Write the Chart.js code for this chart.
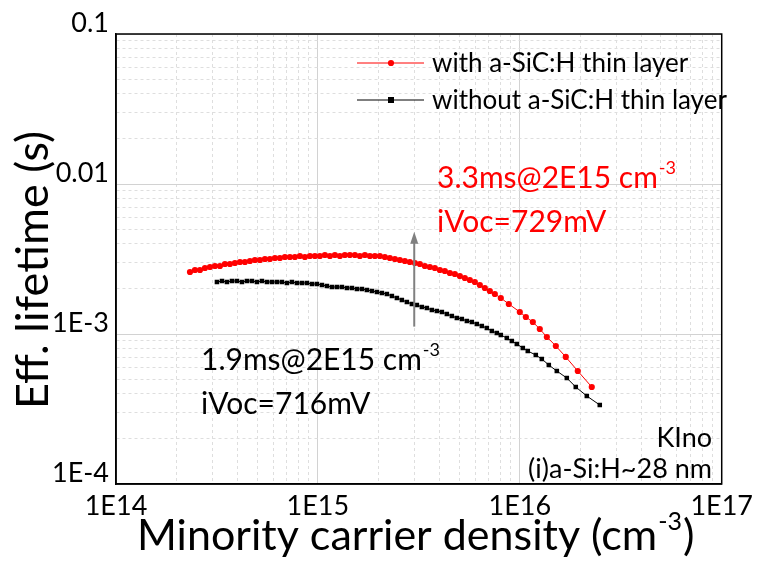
<!DOCTYPE html>
<html>
<head>
<meta charset="utf-8">
<script src="https://cdn.jsdelivr.net/npm/chart.js@4.4.0/dist/chart.umd.min.js"></script>
<style>
html, body { margin: 0; padding: 0; background: #fff; }
</style>
</head>
<body>
<canvas id="lifetimeChart" width="759" height="562"></canvas>
<script>
// effective lifetime (s) vs minority carrier density (cm-3)
var redX = [2.325e14, 2.461e14, 2.605e14, 2.758e14, 2.920e14, 3.091e14, 3.272e14, 3.464e14, 3.667e14, 3.882e14,
    4.111e14, 4.351e14, 4.607e14, 4.876e14, 5.163e14, 5.466e14, 5.786e14, 6.125e14, 6.484e14, 6.865e14,
    7.267e14, 7.693e14, 8.144e14, 8.622e14, 9.130e14, 9.663e14, 1.023e15, 1.083e15, 1.147e15, 1.214e15,
    1.285e15, 1.360e15, 1.440e15, 1.525e15, 1.614e15, 1.709e15, 1.809e15, 1.915e15, 2.027e15, 2.146e15,
    2.272e15, 2.406e15, 2.546e15, 2.696e15, 2.853e15, 3.022e15, 3.199e15, 3.386e15, 3.585e15, 3.795e15,
    4.018e15, 4.253e15, 4.503e15, 4.767e15, 5.047e15, 5.343e15, 5.656e15, 5.988e15, 6.339e15, 6.711e15,
    7.104e15, 7.521e15, 8.052e15, 8.820e15, 1.000e16, 1.071e16, 1.160e16, 1.256e16, 1.361e16, 1.508e16,
    1.689e16, 1.937e16, 2.272e16];
var redY = [2.590e-3, 2.671e-3, 2.671e-3, 2.754e-3, 2.797e-3, 2.840e-3, 2.840e-3, 2.929e-3, 2.929e-3, 2.975e-3,
    3.020e-3, 3.020e-3, 3.067e-3, 3.115e-3, 3.115e-3, 3.162e-3, 3.162e-3, 3.211e-3, 3.211e-3, 3.261e-3,
    3.261e-3, 3.261e-3, 3.311e-3, 3.261e-3, 3.311e-3, 3.311e-3, 3.311e-3, 3.363e-3, 3.311e-3, 3.363e-3,
    3.311e-3, 3.363e-3, 3.363e-3, 3.363e-3, 3.311e-3, 3.363e-3, 3.311e-3, 3.311e-3, 3.311e-3, 3.261e-3,
    3.211e-3, 3.162e-3, 3.115e-3, 3.067e-3, 3.020e-3, 2.975e-3, 2.929e-3, 2.840e-3, 2.797e-3, 2.754e-3,
    2.671e-3, 2.630e-3, 2.550e-3, 2.512e-3, 2.434e-3, 2.362e-3, 2.291e-3, 2.222e-3, 2.122e-3, 2.026e-3,
    1.935e-3, 1.848e-3, 1.738e-3, 1.585e-3, 1.402e-3, 1.298e-3, 1.202e-3, 1.080e-3, 9.55e-4, 8.32e-4,
    7.03e-4, 5.666e-4, 4.432e-4];

var blackX = [3.162e14, 3.349e14, 3.544e14, 3.753e14, 3.972e14, 4.205e14, 4.451e14, 4.713e14, 4.989e14, 5.282e14,
    5.591e14, 5.920e14, 6.266e14, 6.634e14, 7.022e14, 7.434e14, 7.870e14, 8.332e14, 8.820e14, 9.339e14,
    9.886e14, 1.047e15, 1.108e15, 1.173e15, 1.242e15, 1.315e15, 1.392e15, 1.474e15, 1.560e15, 1.652e15,
    1.748e15, 1.851e15, 1.960e15, 2.074e15, 2.196e15, 2.325e15, 2.461e15, 2.605e15, 2.758e15, 2.920e15,
    3.091e15, 3.272e15, 3.464e15, 3.667e15, 3.882e15, 4.111e15, 4.351e15, 4.607e15, 4.876e15, 5.163e15,
    5.466e15, 5.786e15, 6.125e15, 6.484e15, 6.865e15, 7.267e15, 7.693e15, 8.052e15, 8.622e15, 9.130e15,
    9.663e15, 1.035e16, 1.095e16, 1.200e16, 1.285e16, 1.392e16, 1.525e16, 1.709e16, 1.893e16, 2.147e16,
    2.489e16];
var blackY = [2.222e-3, 2.256e-3, 2.222e-3, 2.256e-3, 2.256e-3, 2.222e-3, 2.256e-3, 2.256e-3, 2.222e-3, 2.256e-3,
    2.222e-3, 2.222e-3, 2.222e-3, 2.222e-3, 2.188e-3, 2.222e-3, 2.188e-3, 2.188e-3, 2.188e-3, 2.154e-3,
    2.154e-3, 2.122e-3, 2.089e-3, 2.057e-3, 2.057e-3, 2.057e-3, 2.026e-3, 2.026e-3, 1.995e-3, 1.995e-3,
    1.965e-3, 1.935e-3, 1.905e-3, 1.876e-3, 1.848e-3, 1.792e-3, 1.738e-3, 1.686e-3, 1.635e-3, 1.585e-3,
    1.561e-3, 1.514e-3, 1.491e-3, 1.445e-3, 1.424e-3, 1.402e-3, 1.360e-3, 1.318e-3, 1.279e-3, 1.259e-3,
    1.221e-3, 1.202e-3, 1.166e-3, 1.130e-3, 1.096e-3, 1.047e-3, 1.015e-3, 9.847e-4, 9.404e-4, 8.981e-4,
    8.577e-4, 8.065e-4, 7.701e-4, 7.244e-4, 6.813e-4, 6.213e-4, 5.666e-4, 5.088e-4, 4.432e-4, 3.860e-4,
    3.362e-4];

var seriesNames = ["with a-SiC:H thin layer", "without a-SiC:H thin layer"];

var xDecades = [1e14, 1e15, 1e16, 1e17];
var xTickLabels = ["1E14", "1E15", "1E16", "1E17"];
var yDecades = [1e-4, 1e-3, 1e-2, 1e-1];
var yTickLabels = ["1E-4", "1E-3", "0.01", "0.1"];

// arrow between the two curves at 3E15
var arrowX = 3e15;
var arrowFrom = 1.12e-3;
var arrowTo = 4.8e-3;

var FONT = "Lato, 'DejaVu Sans', sans-serif";

function zip(xs, ys) {
    var pts = [];
    for (var i = 0; i < xs.length; ++i) {
        pts.push({ x: xs[i], y: ys[i] });
    }
    return pts;
}

/* 1..9 per decade, decades flagged as major */
function logTicks(decades) {
    var ticks = [];
    for (var i = 0; i < decades.length; ++i) {
        ticks.push({ value: decades[i], major: true });
        if (i < decades.length - 1) {
            for (var m = 2; m <= 9; ++m) {
                ticks.push({ value: decades[i] * m, major: false });
            }
        }
    }
    return ticks;
}

function decadeLabel(value, decades, labels) {
    for (var i = 0; i < decades.length; ++i) {
        if (Math.abs(value / decades[i] - 1) < 1e-6) return labels[i];
    }
    return "";
}

function gridColor(ctx) {
    return ctx.tick && ctx.tick.major ? "#d2d2d2" : "#dedede";
}
function gridDash(ctx) {
    return ctx.tick && ctx.tick.major ? [] : [3, 3];
}

// text followed by a raised superscript, e.g. cm^-3; returns the end x
function textSup(ctx, x, y, main, sup, size, supSize, rise) {
    ctx.textAlign = "left";
    ctx.font = size + "px " + FONT;
    var w1 = ctx.measureText(main).width;
    ctx.fillText(main, x, y);
    ctx.font = supSize + "px " + FONT;
    ctx.fillText(sup, x + w1 + 1, y - rise);
    return x + w1 + 1 + ctx.measureText(sup).width;
}

var overlay = {
    id: "overlay",
    afterDraw: function (chart) {
        var ctx = chart.ctx;
        var area = chart.chartArea;
        var xs = chart.scales.x;
        var ys = chart.scales.y;
        ctx.save();

        /* frame */
        ctx.strokeStyle = "#000";
        ctx.lineWidth = 1.5;
        ctx.strokeRect(area.left, area.top, area.right - area.left, area.bottom - area.top);

        /* arrow */
        var ax = xs.getPixelForValue(arrowX);
        var ay0 = ys.getPixelForValue(arrowFrom);
        var ay1 = ys.getPixelForValue(arrowTo);
        ctx.strokeStyle = "#808080";
        ctx.fillStyle = "#808080";
        ctx.lineWidth = 2;
        ctx.beginPath();
        ctx.moveTo(ax, ay0);
        ctx.lineTo(ax, ay1 + 10);
        ctx.stroke();
        ctx.beginPath();
        ctx.moveTo(ax, ay1);
        ctx.lineTo(ax - 4, ay1 + 12);
        ctx.lineTo(ax + 4, ay1 + 12);
        ctx.closePath();
        ctx.fill();

        /* legend */
        var lg = [
            { y: 63, color: "#ff0000", style: "circle" },
            { y: 100, color: "#000000", style: "rect" }
        ];
        ctx.textBaseline = "middle";
        for (var i = 0; i < lg.length; ++i) {
            ctx.strokeStyle = lg[i].color;
            ctx.fillStyle = lg[i].color;
            ctx.lineWidth = 1;
            ctx.beginPath();
            ctx.moveTo(357, lg[i].y);
            ctx.lineTo(424, lg[i].y);
            ctx.stroke();
            if (lg[i].style === "circle") {
                ctx.beginPath();
                ctx.arc(391, lg[i].y, 3.1, 0, Math.PI * 2);
                ctx.fill();
            } else {
                ctx.fillRect(388, lg[i].y - 3, 6, 6);
            }
            ctx.fillStyle = "#000";
            ctx.font = "26px " + FONT;
            ctx.textAlign = "left";
            ctx.fillText(seriesNames[i], 432, lg[i].y + 1);
        }

        /* annotations */
        ctx.textBaseline = "alphabetic";
        ctx.fillStyle = "#ff0000";
        textSup(ctx, 437, 188, "3.3ms@2E15 cm", "-3", 30, 18, 14);
        ctx.font = "30px " + FONT;
        ctx.fillText("iVoc=729mV", 437, 232);

        ctx.fillStyle = "#000";
        textSup(ctx, 201, 370, "1.9ms@2E15 cm", "-3", 30, 18, 14);
        ctx.font = "30px " + FONT;
        ctx.fillText("iVoc=716mV", 201, 414);

        ctx.textAlign = "right";
        ctx.font = "27px " + FONT;
        ctx.fillText("KIno", 712, 447);
        ctx.fillText("(i)a-Si:H~28 nm", 712, 478);

        /* axis titles */
        ctx.fillStyle = "#000";
        var end = textSup(ctx, 137, 550, "Minority carrier density (cm", "-3", 43, 25, 20);
        ctx.font = "43px " + FONT;
        ctx.textAlign = "left";
        ctx.fillText(")", end + 1, 550);

        ctx.save();
        ctx.translate(48, 270);
        ctx.rotate(-Math.PI / 2);
        ctx.textAlign = "center";
        ctx.font = "45px " + FONT;
        ctx.fillText("Eff. lifetime (s)", 0, 0);
        ctx.restore();

        ctx.restore();
    }
};

var chartCtx = document.getElementById("lifetimeChart");
var lifetimeChart = new Chart(chartCtx, {
    type: "line",
    data: {
        datasets: [{
            label: seriesNames[0],
            data: zip(redX, redY),
            borderColor: "#ff0000",
            backgroundColor: "#ff0000",
            borderWidth: 1,
            pointStyle: "circle",
            pointRadius: 3.1,
            pointBorderWidth: 0,
            lineTension: 0
        }, {
            label: seriesNames[1],
            data: zip(blackX, blackY),
            borderColor: "#000000",
            backgroundColor: "#000000",
            borderWidth: 1,
            pointStyle: "rect",
            pointRadius: 3.2,
            pointBorderWidth: 0,
            lineTension: 0
        }]
    },
    options: {
        responsive: false,
        animation: false,
        layout: { padding: { top: 34, right: 37, left: 0, bottom: 0 } },
        plugins: {
            legend: { display: false },
            title: { display: false },
            tooltip: { enabled: false }
        },
        scales: {
            x: {
                type: "logarithmic",
                min: 1e14,
                max: 1e17,
                afterBuildTicks: function (scale) { scale.ticks = logTicks(xDecades); },
                afterFit: function (scale) { scale.height = 78; },
                ticks: {
                    autoSkip: false,
                    maxRotation: 0,
                    padding: 6,
                    color: "#000",
                    font: { family: FONT, size: 27 },
                    callback: function (value) { return decadeLabel(value, xDecades, xTickLabels); }
                },
                grid: { color: gridColor, drawTicks: false, lineWidth: 1 },
                border: { display: true, color: "#000", width: 1.5, dash: gridDash }
            },
            y: {
                type: "logarithmic",
                min: 1e-4,
                max: 1e-1,
                afterBuildTicks: function (scale) { scale.ticks = logTicks(yDecades); },
                afterFit: function (scale) { scale.width = 116; },
                ticks: {
                    autoSkip: false,
                    padding: 7,
                    labelOffset: -11,
                    color: "#000",
                    font: { family: FONT, size: 27 },
                    callback: function (value) { return decadeLabel(value, yDecades, yTickLabels); }
                },
                grid: { color: gridColor, drawTicks: false, lineWidth: 1 },
                border: { display: true, color: "#000", width: 1.5, dash: gridDash }
            }
        }
    },
    plugins: [overlay]
});
</script>
</body>
</html>
